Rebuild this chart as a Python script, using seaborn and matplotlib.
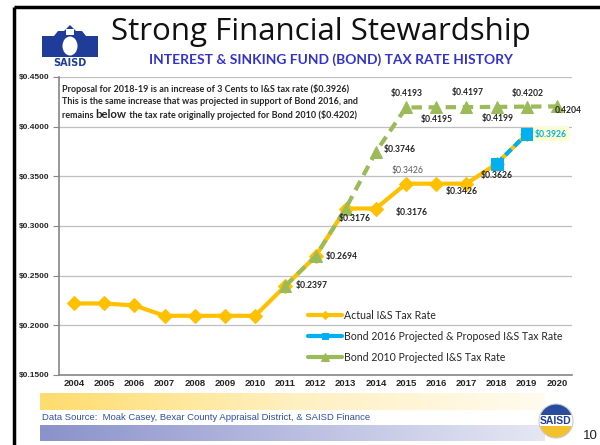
import numpy as np
import matplotlib.pyplot as plt
import seaborn as sns
from matplotlib.colors import LinearSegmentedColormap
from matplotlib.patches import Polygon, Ellipse, Wedge, Rectangle, Circle

# data
years = list(range(2004, 2021))
actual_years = list(range(2004, 2020))
actual_rate = [0.2220, 0.2220, 0.2200, 0.2096, 0.2096, 0.2096, 0.2096, 0.2397,
               0.2694, 0.3176, 0.3176, 0.3426, 0.3426, 0.3426, 0.3626, 0.3926]
bond2016_years = [2018, 2019]
bond2016_rate = [0.3626, 0.3926]
bond2010_years = list(range(2011, 2021))
bond2010_rate = [0.2397, 0.2694, 0.3176, 0.3746, 0.4193, 0.4195, 0.4197,
                 0.4199, 0.4202, 0.4204]

series_names = ['Actual I&S Tax Rate',
                'Bond 2016 Projected & Proposed I&S Tax Rate',
                'Bond 2010 Projected I&S Tax Rate']

sns.set_style('white')
plt.rcParams['font.family'] = ['Liberation Sans', 'DejaVu Sans']

YELLOW = '#FFC000'
BLUE = '#00B0F0'
GREEN = '#9BBB59'
CAL = ['Lato', 'DejaVu Sans']

fig = plt.figure(figsize=(6, 4.45), dpi=100)
ax = fig.add_axes([59 / 600, 1 - 375 / 445, (572 - 59) / 600, 298 / 445])

sns.lineplot(x=actual_years, y=actual_rate, ax=ax, color=YELLOW, lw=3,
             marker='D', markersize=7.5, mec=YELLOW, label=series_names[0])
sns.lineplot(x=bond2016_years, y=bond2016_rate, ax=ax, color=BLUE, lw=3,
             linestyle=(0, (2, 1)), marker='s', markersize=8, mec=BLUE,
             label=series_names[1])
sns.lineplot(x=bond2010_years, y=bond2010_rate, ax=ax, color=GREEN, lw=3,
             linestyle=(0, (2.5, 1.6)), marker='^', markersize=9, mec=GREEN,
             label=series_names[2])

ax.set_xlim(2003.5, 2020.5)
ax.set_ylim(0.15, 0.45)
ax.set_xticks(years)
ax.set_xticklabels([str(y) for y in years], fontweight='bold', fontsize=6.8)
ax.set_xticks(np.arange(2003.5, 2021, 1), minor=True)
yt = np.arange(0.15, 0.4501, 0.05)
ax.set_yticks(yt)
ax.set_yticklabels([f'${v:.4f}' for v in yt], fontweight='bold', fontsize=6.0)
ax.tick_params(axis='x', which='major', length=0, pad=3)
ax.tick_params(axis='x', which='minor', length=3, color='#868686', direction='out')
ax.tick_params(axis='y', length=4, color='#868686', direction='out', pad=3, left=True)
ax.grid(axis='y', color='#BFBFBF', lw=0.9)
for s in ['top', 'right']:
    ax.spines[s].set_visible(False)
for s in ['left', 'bottom']:
    ax.spines[s].set_color('#868686')
    ax.spines[s].set_linewidth(1.2)
ax.set_xlabel('')
ax.set_ylabel('')

leg = ax.legend(loc='upper left', bbox_to_anchor=(308 / 600, 1 - 310 / 445),
                bbox_transform=fig.transFigure, frameon=False, borderpad=0,
                borderaxespad=0, handlelength=3.2, handletextpad=0.2,
                labelspacing=0.95, markerscale=0.6,
                prop={'family': CAL, 'size': 7.6})
for ln in leg.get_lines():
    ln.set_linestyle('-')

# data labels (offsets in pixels)
def lab(x, y, txt, dx, dy, ha='center', **kw):
    ax.annotate(txt, (x, y), xytext=(dx, dy), textcoords='offset pixels',
                ha=ha, va='center', fontsize=6.2, family=CAL,
                fontweight=kw.pop('fontweight', 'bold'), **kw)

a = dict(zip(actual_years, actual_rate))
g = dict(zip(bond2010_years, bond2010_rate))
lab(2011, a[2011], f'${a[2011]:.4f}', 10, 0, ha='left')
lab(2012, a[2012], f'${a[2012]:.4f}', 10, 0, ha='left')
lab(2013, a[2013], f'${a[2013]:.4f}', 9, -10)
lab(2014, a[2014], f'${a[2014]:.4f}', 36, -4)
lab(2015, a[2015], f'${a[2015]:.4f}', 1, 13, fontweight='normal', color='#595959')
lab(2017, a[2017], f'${a[2017]:.4f}', -5, -8)
lab(2018, a[2018], f'${a[2018]:.4f}', 0, -12)
lab(2019, bond2016_rate[1], f'${bond2016_rate[1]:.4f}', 8, 0, ha='left',
    color=BLUE, bbox=dict(boxstyle='square,pad=0.25', fc='#FFFFCC', ec='none'))
lab(2014, g[2014], f'${g[2014]:.4f}', 8, 2, ha='left')
lab(2015, g[2015], f'${g[2015]:.4f}', 1, 14)
lab(2016, g[2016], f'${g[2016]:.4f}', 1, -12)
lab(2017, g[2017], f'${g[2017]:.4f}', 1, 15)
lab(2018, g[2018], f'${g[2018]:.4f}', 1, -12)
lab(2019, g[2019], f'${g[2019]:.4f}', 1, 13)
lab(2020, g[2020], f'{g[2020]:.4f}', 11, -4)

# decoration layer in pixel coordinates
ov = fig.add_axes([0, 0, 1, 1], zorder=5)
ov.axis('off')
ov.patch.set_visible(False)

ov.plot([14, 14], [7, 445], color='black', lw=2.5, solid_capstyle='butt')
ov.plot([14, 600], [7, 7], color='black', lw=2.5, solid_capstyle='butt')

# SAISD logo (simplified)
navy = '#1F3C99'
ov.add_patch(Polygon([(42, 57), (42, 36), (54, 36), (58, 31), (64, 31), (70, 25),
                      (76, 31), (82, 31), (86, 36), (98, 36), (98, 57)],
                     closed=True, fc=navy, ec='none'))
ov.add_patch(Ellipse((70, 46), 15, 19, fc='white', ec='none'))
ov.add_patch(Rectangle((66, 29), 8, 6, fc='white', ec='none'))
ov.text(70, 63, 'SAISD', ha='center', va='center', fontsize=7, fontweight='bold',
        color=navy, family='DejaVu Sans')

ov.text(321, 32, 'Strong Financial Stewardship', ha='center', va='center',
        fontsize=22.5, family=['Open Sans', 'DejaVu Sans'], color='#111111')
ov.text(331, 60, 'INTEREST & SINKING FUND (BOND) TAX RATE HISTORY', ha='center',
        va='center', fontsize=9.9, fontweight='bold', family=CAL, color='#3333CC')

# proposal note
ov.text(62, 89, 'Proposal for 2018-19 is an increase of 3 Cents to I&S tax rate ($0.3926)',
        ha='left', va='center', fontsize=6.5, fontweight='bold', family=CAL)
ov.text(62, 102, 'This is the same increase that was projected in support of Bond 2016, and',
        ha='left', va='center', fontsize=6.5, fontweight='bold', family=CAL)
p1 = ov.text(62, 115, 'remains ', ha='left', va='center', fontsize=6.5,
             fontweight='bold', family=CAL)
p2 = ov.annotate('below', xy=(1, 0), xycoords=p1, ha='left', va='bottom',
                 fontsize=8.2, fontweight='bold', family=CAL)
ov.annotate(' the tax rate originally projected for Bond 2010 ($0.4202)', xy=(1, 0),
            xycoords=p2, ha='left', va='bottom', fontsize=6.5, fontweight='bold',
            family=CAL)

# footer bands
grad = np.linspace(0, 1, 256)[None, :]
ycm = LinearSegmentedColormap.from_list('y', ['#FFDC6E', '#FFF0C0', '#FFFBEE'])
bcm = LinearSegmentedColormap.from_list('b', ['#8A92CA', '#B9BDE0', '#E6E7F3'])
ov.imshow(grad, cmap=ycm, aspect='auto', extent=(40, 545, 410, 393), zorder=1)
ov.imshow(grad, cmap=bcm, aspect='auto', extent=(40, 545, 441, 425), zorder=1)
ov.set_xlim(0, 600)
ov.set_ylim(445, 0)
ov.text(42, 418, 'Data Source:  Moak Casey, Bexar County Appraisal District, & SAISD Finance',
        ha='left', va='center', fontsize=6.8, color='#2F4F9F')

# round logo bottom right
ov.add_patch(Wedge((556, 421), 17, 0, 180, fc='#F2C12E', ec='none', zorder=2))
ov.add_patch(Wedge((556, 421), 17, 180, 360, fc='#2A4C9C', ec='none', zorder=2))
ov.add_patch(Rectangle((539, 415), 34, 11, fc='white', ec='none', zorder=3))
ov.add_patch(Circle((556, 421), 17, fc='none', ec='#CCCCCC', lw=0.8, zorder=4))
ov.text(556, 421, 'SAISD', ha='center', va='center', fontsize=7.5, fontweight='bold',
        color='#1F3C99', zorder=5)
ov.text(590, 436, '10', ha='center', va='center', fontsize=9.5, color='#222222')

fig.savefig('out.png', dpi=100)
